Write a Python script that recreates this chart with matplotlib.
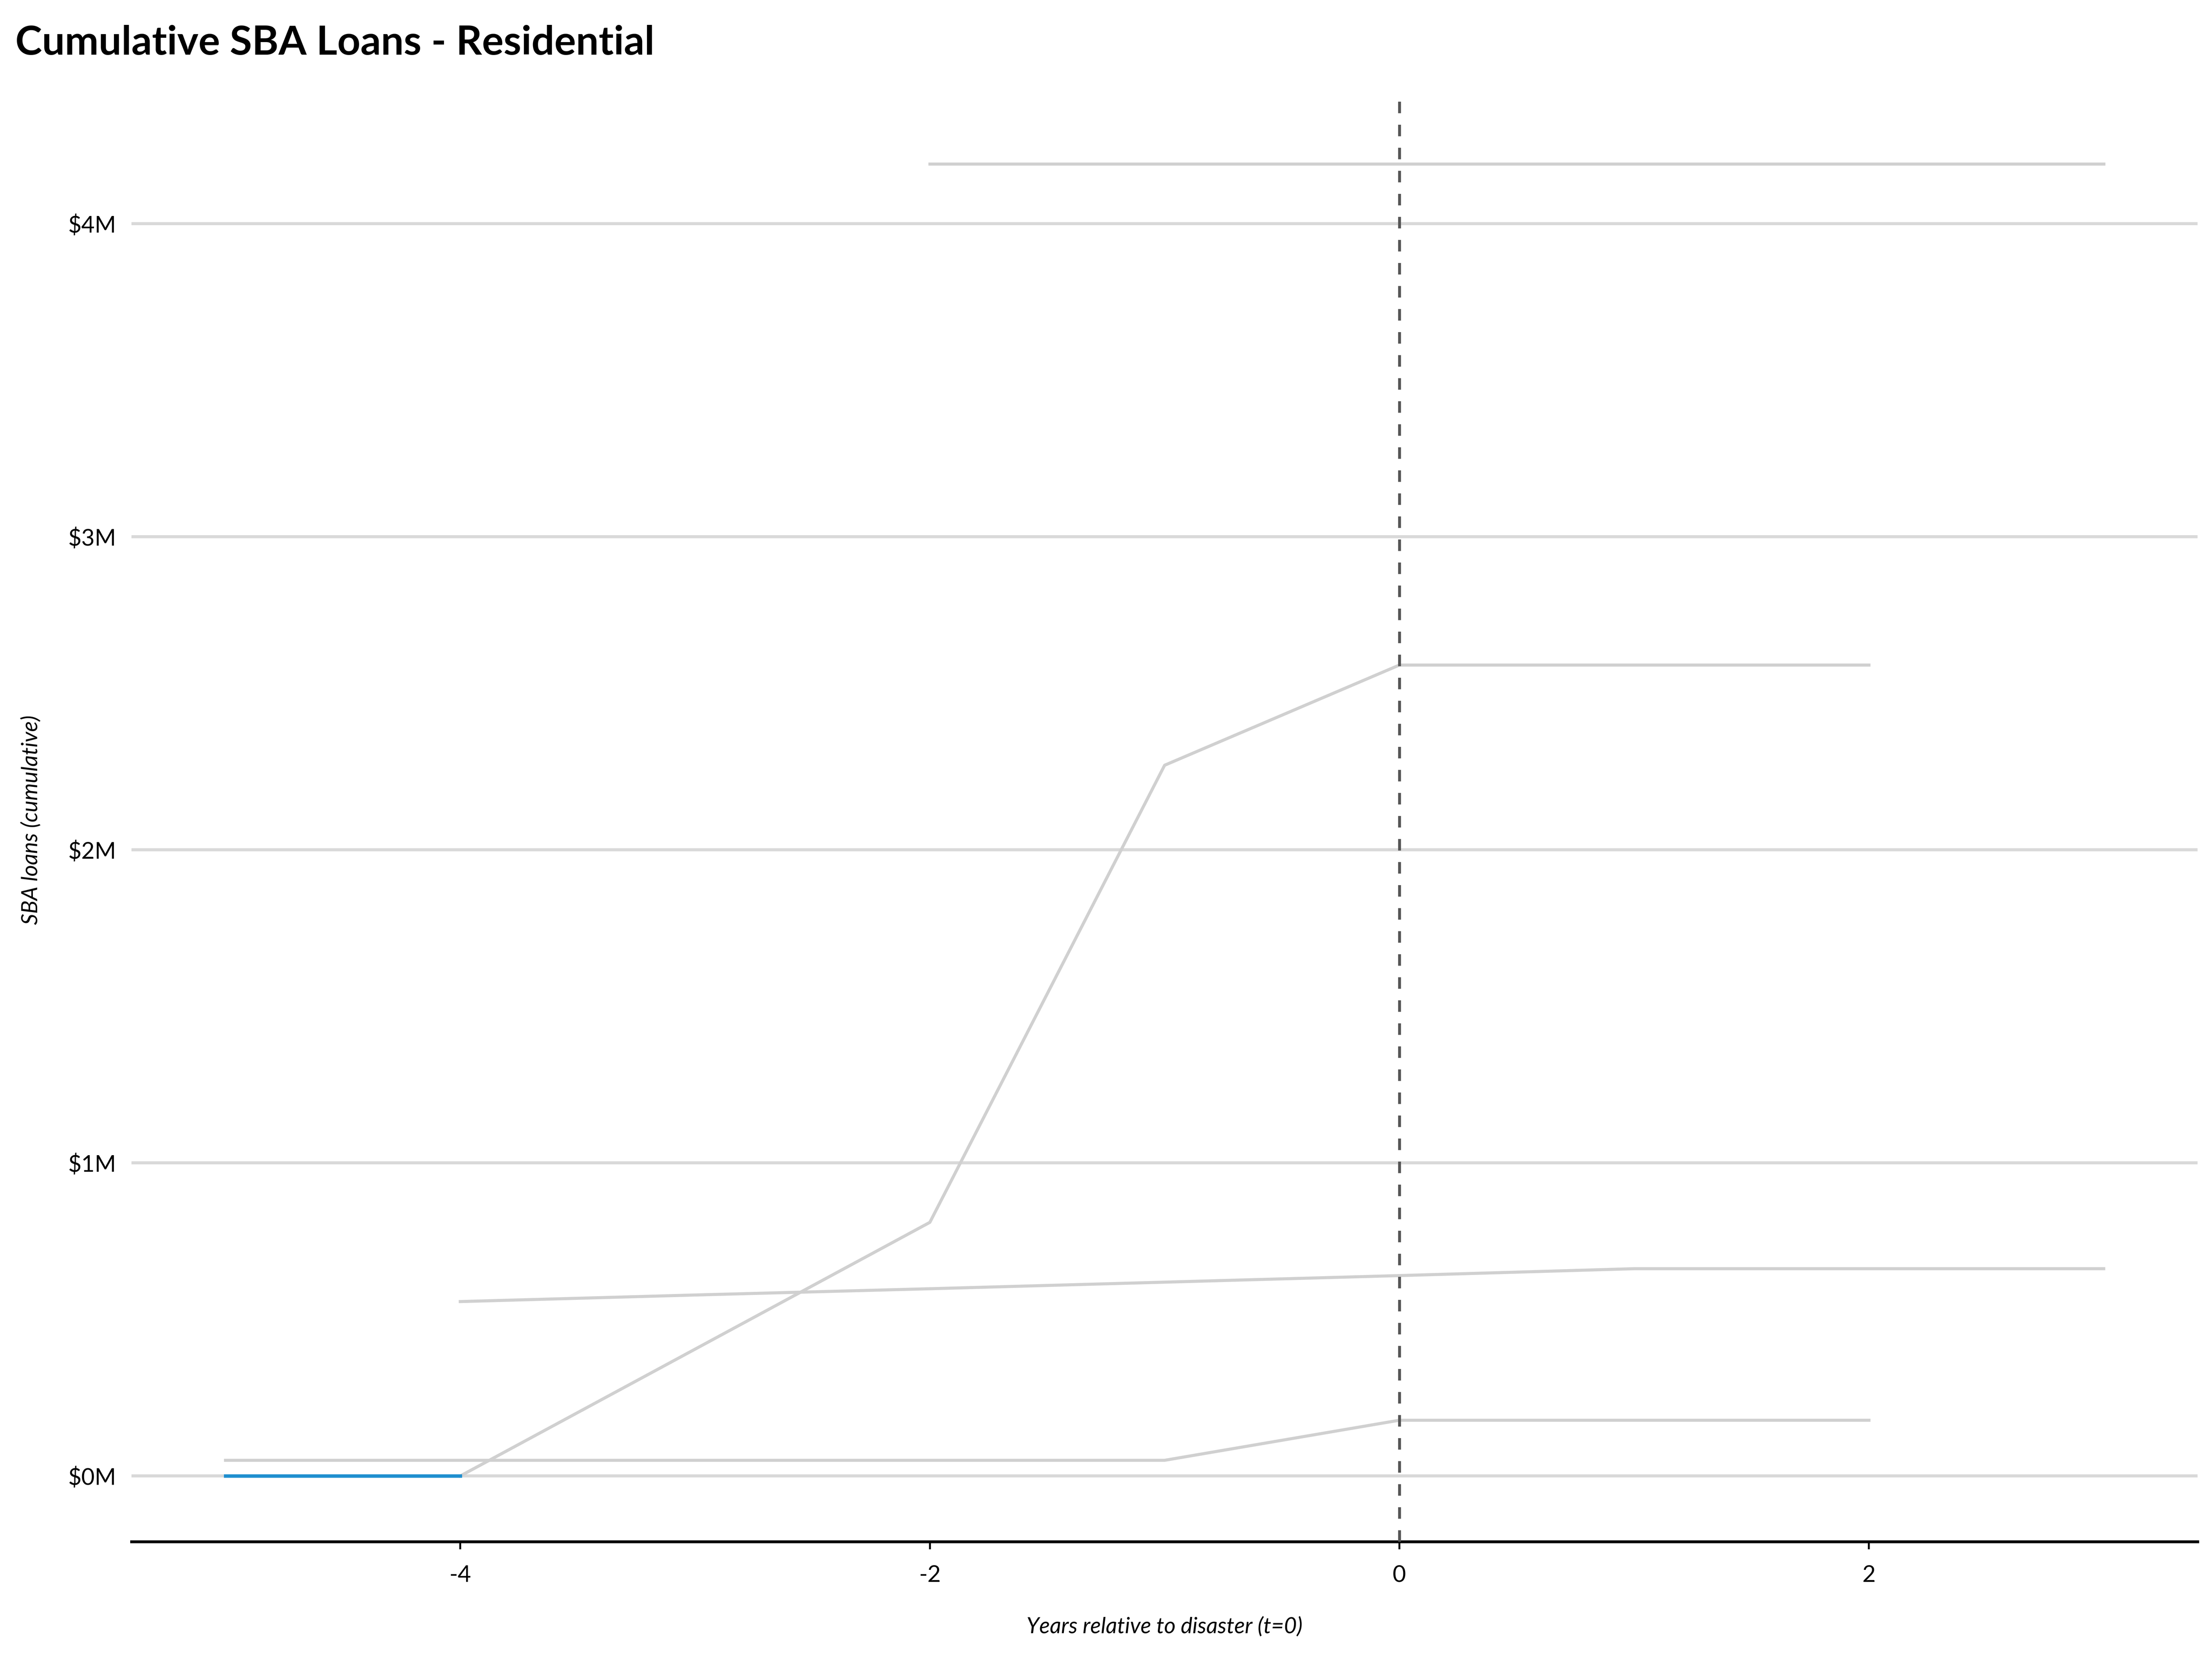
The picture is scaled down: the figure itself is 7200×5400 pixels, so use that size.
import matplotlib
matplotlib.use("Agg")
import matplotlib.pyplot as plt

years_a = [-2, -1, 0, 1, 2, 3]
vals_a = [4.19, 4.19, 4.19, 4.19, 4.19, 4.19]
years_b = [-4, -2, -1, 0, 1, 2]
vals_b = [0.0, 0.81, 2.27, 2.59, 2.59, 2.59]
years_c = [-4, -3, -2, -1, 0, 1, 2, 3]
vals_c = [0.557, 0.578, 0.598, 0.619, 0.64, 0.662, 0.662, 0.662]
years_d = [-5, -4, -3, -2, -1, 0, 1, 2]
vals_d = [0.05, 0.05, 0.05, 0.05, 0.05, 0.178, 0.178, 0.178]
years_hl = [-5, -4]
vals_hl = [0.0, 0.0]
yticks = [0, 1, 2, 3, 4]
ytick_labels = ["$0M", "$1M", "$2M", "$3M", "$4M"]
xticks = [-4, -2, 0, 2]

plt.rcParams['font.family'] = ['Lato', 'DejaVu Sans']
fig = plt.figure(figsize=(16, 12), dpi=450)
ax = fig.add_axes([0.0595, 0.0707, 0.934, 0.87])
for y in yticks:
    ax.axhline(y, color="#d9d9d9", lw=1.6, zorder=0)
gray = "#d0d0d0"
for xs, vs in [(years_a, vals_a), (years_b, vals_b), (years_c, vals_c), (years_d, vals_d)]:
    ax.plot(xs, vs, color=gray, lw=1.6, zorder=1)
ax.plot(years_hl, vals_hl, color="#1f8fcf", lw=1.8, zorder=2)
ax.axvline(0, color="#555555", lw=1.5, ls=(0, (4, 4)), zorder=3)
ax.set_xlim(-5.4, 3.4)
ax.set_ylim(-0.21, 4.4)
ax.set_yticks(yticks)
ax.set_yticklabels(ytick_labels)
ax.set_xticks(xticks)
ax.set_xticklabels([str(x) for x in xticks])
for s in ["top", "right", "left"]:
    ax.spines[s].set_visible(False)
ax.spines["bottom"].set_linewidth(1.5)
ax.tick_params(axis="y", length=0, labelsize=12, pad=8)
ax.tick_params(axis="x", length=4, width=1, labelsize=12, pad=8)
ax.set_xlabel("Years relative to disaster (t=0)", fontsize=11.5, style="italic", labelpad=16)
ax.set_ylabel("SBA loans (cumulative)", fontsize=11.5, style="italic", labelpad=14)
fig.text(0.007, 0.985, "Cumulative SBA Loans - Residential", fontsize=21, fontweight="bold", va="top")
fig.savefig("out.png")
